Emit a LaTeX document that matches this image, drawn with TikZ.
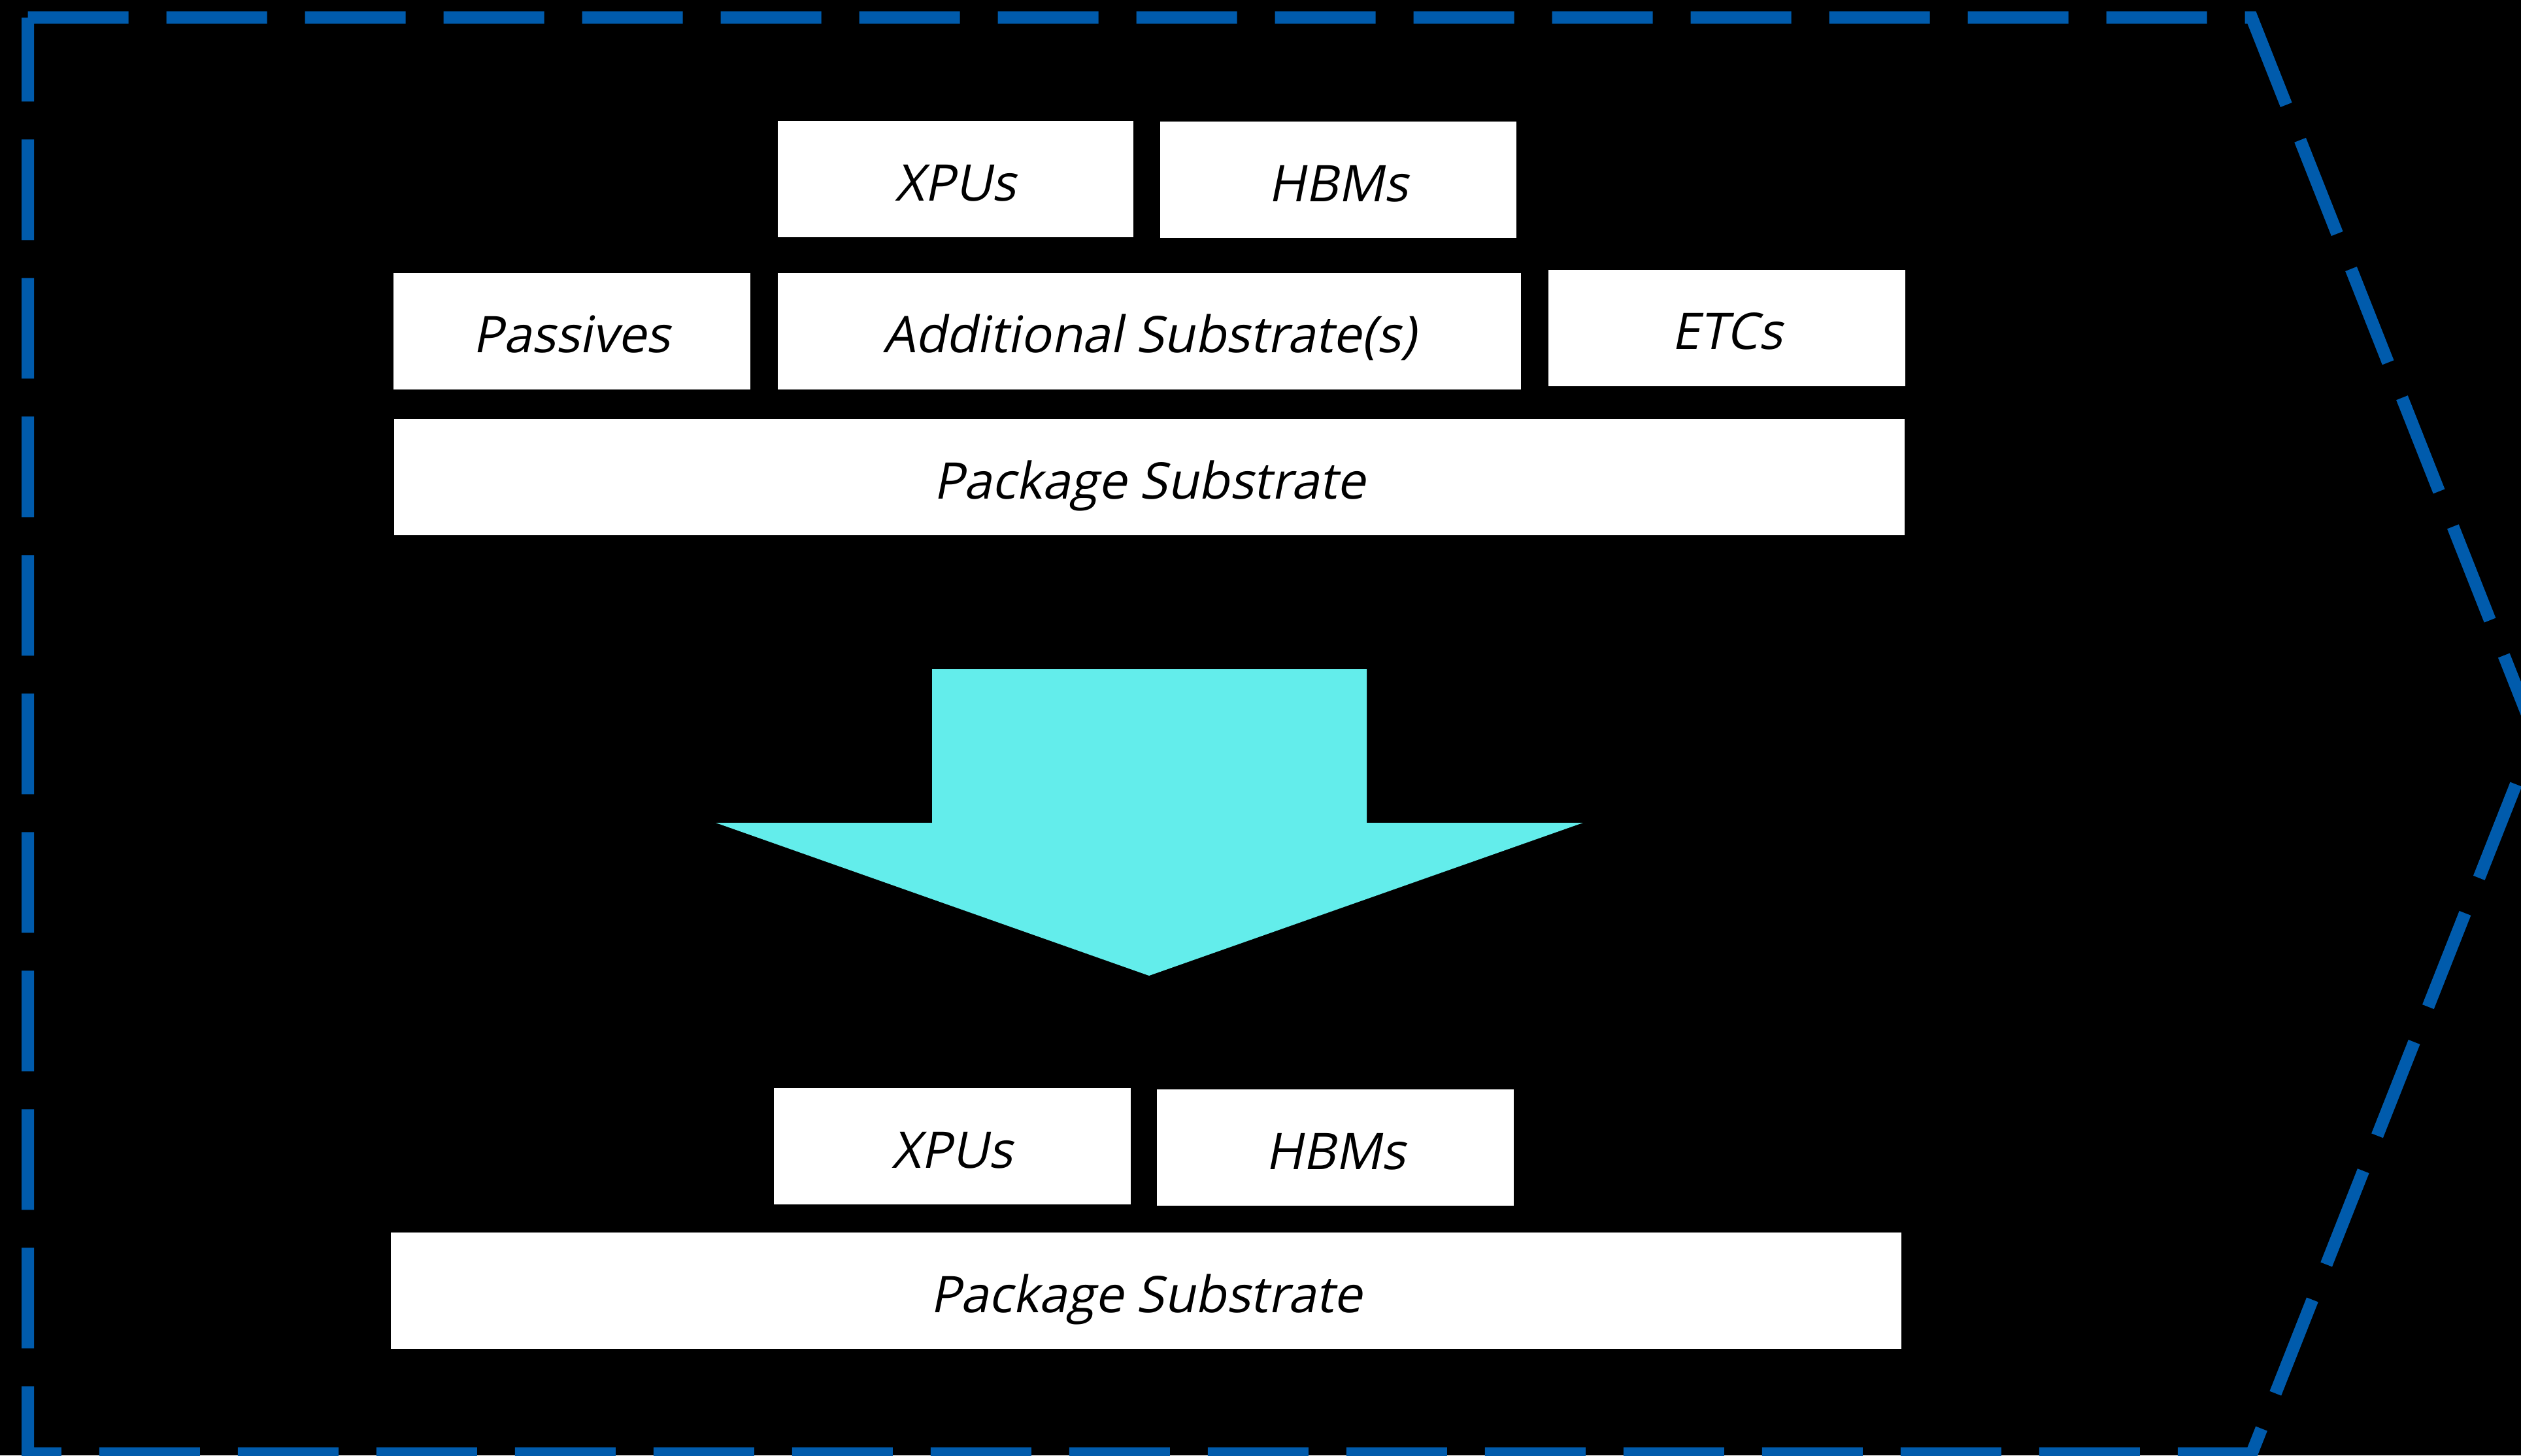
\documentclass[tikz,border=0pt]{standalone}
\usepackage{fontspec}
\usetikzlibrary{positioning}
\newfontfamily\partfont{Open Sans}[FakeSlant=0.2]
\definecolor{framecol}{HTML}{005BAC}
\definecolor{flowcol}{HTML}{63EDEB}
\tikzset{
  part/.style={fill=white, inner sep=0pt, minimum width=5.46cm, minimum height=1.78cm,
    text height=18.8pt, text depth=0pt, font=\partfont\fontsize{22}{26}\selectfont},
}

\begin{document}
\begin{tikzpicture}
  \fill[black] (0,0) rectangle (38.57,22.27);
  \useasboundingbox (0,0) rectangle (38.57,22.27);
  % before
  \node[part, minimum width=23.11cm] (pkgA) at (17.585,14.97) {Package Substrate};
  \node[part, minimum width=11.37cm, above=0.44cm of pkgA] (addA) {Additional Substrate(s)};
  \node[part, left=0.41cm of addA] (pasA) {Passives};
  \node[part, right=0.41cm of addA, yshift=0.05cm] (etcA) {ETCs};
  \node[part, minimum width=5.44cm] (xpuA) at (14.62,19.53) {XPUs};
  \node[part, minimum width=5.45cm] (hbmA) at (20.475,19.52) {HBMs};
  % arrow
  \fill[flowcol] (14.26,12.03) -- (20.91,12.03) -- (20.91,9.68) -- (24.22,9.68)
    -- (17.58,7.34) -- (10.95,9.68) -- (14.26,9.68) -- cycle;
  % after
  \node[part, minimum width=23.11cm] (pkgB) at (17.535,2.52) {Package Substrate};
  \node[part] (xpuB) at (14.57,4.73) {XPUs};
  \node[part] (hbmB) at (20.43,4.71) {HBMs};
  % boundary
  \draw[framecol, line width=0.19cm, dash pattern=on 1.54cm off 0.58cm]
    (0.425,22.0) -- (34.45,22.0) -- (38.79,11.02) -- (34.45,0.03) -- (0.425,0.03) -- cycle;
\end{tikzpicture}
\end{document}
